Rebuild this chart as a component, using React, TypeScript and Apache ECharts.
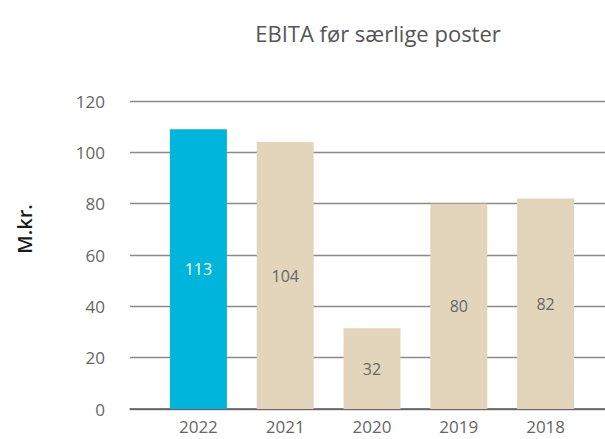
import React, { useEffect, useRef } from "react";
import * as echarts from "echarts";

const categories = ["2022", "2021", "2020", "2019", "2018"];
const barValues = [109, 104, 31.5, 80, 82];
const barLabels = ["113", "104", "32", "80", "82"];
const barColors = ["#00b5dc", "#e3d5bb", "#e3d5bb", "#e3d5bb", "#e3d5bb"];
const labelColors = ["#ffffff", "#666666", "#666666", "#666666", "#666666"];
const titleText = "EBITA før særlige poster";
const yName = "M.kr.";

const FONT = "'Open Sans', 'Noto Sans', sans-serif";

export default function App() {
  const ref = useRef<HTMLDivElement>(null);
  useEffect(() => {
    if (!ref.current) return;
    const chart = echarts.init(ref.current, undefined, { renderer: "svg" });
    chart.setOption({
      animation: false,
      backgroundColor: "#ffffff",
      title: {
        text: titleText,
        left: 373,
        textAlign: "center",
        top: 17,
        textStyle: { fontFamily: FONT, fontSize: 22, fontWeight: "normal", color: "#555555" },
      },
      graphic: [
        {
          type: "text",
          x: 24,
          y: 229,
          rotation: Math.PI / 2,
          style: {
            text: yName,
            fontFamily: FONT,
            fontSize: 20,
            fontWeight: 600,
            fill: "#1a1a1a",
            align: "center",
            verticalAlign: "middle",
          },
        },
      ],
      grid: [
        { left: 130, right: 0, top: 101, bottom: 30 },
        { left: 155, right: 16, top: 101, bottom: 30 },
      ],
      xAxis: [
        {
          type: "category",
          gridIndex: 0,
          data: categories,
          axisLine: { show: true, lineStyle: { color: "#5a5a5a", width: 1.5 } },
          axisTick: { show: false },
          axisLabel: { show: false },
        },
        {
          type: "category",
          gridIndex: 1,
          data: categories,
          axisLine: { show: false },
          axisTick: { show: false },
          axisLabel: { fontFamily: FONT, fontSize: 17, lineHeight: 17, color: "#666666", margin: 9 },
        },
      ],
      yAxis: [
        {
          type: "value",
          gridIndex: 0,
          min: 0,
          max: 120,
          interval: 20,
          axisLine: { show: false },
          axisTick: { show: false },
          axisLabel: { fontFamily: FONT, fontSize: 17, color: "#666666", margin: 25 },
          splitLine: { lineStyle: { color: "#8a8a8a", width: 1.3 } },
        },
        {
          type: "value",
          gridIndex: 1,
          min: 0,
          max: 120,
          interval: 20,
          show: false,
          splitLine: { show: false },
        },
      ],
      series: [
        {
          type: "bar",
          xAxisIndex: 1,
          yAxisIndex: 1,
          barWidth: 57,
          data: barValues.map((v, i) => ({
            value: v,
            itemStyle: { color: barColors[i] },
            label: { color: labelColors[i] },
          })),
          label: {
            show: true,
            position: "inside",
            fontFamily: FONT,
            fontSize: 16,
            formatter: (p: any) => barLabels[p.dataIndex],
          },
        },
      ],
    });
    return () => chart.dispose();
  }, []);
  return <div ref={ref} style={{ width: 605, height: 439, position: "absolute", left: 0, top: 0 }} />;
}
